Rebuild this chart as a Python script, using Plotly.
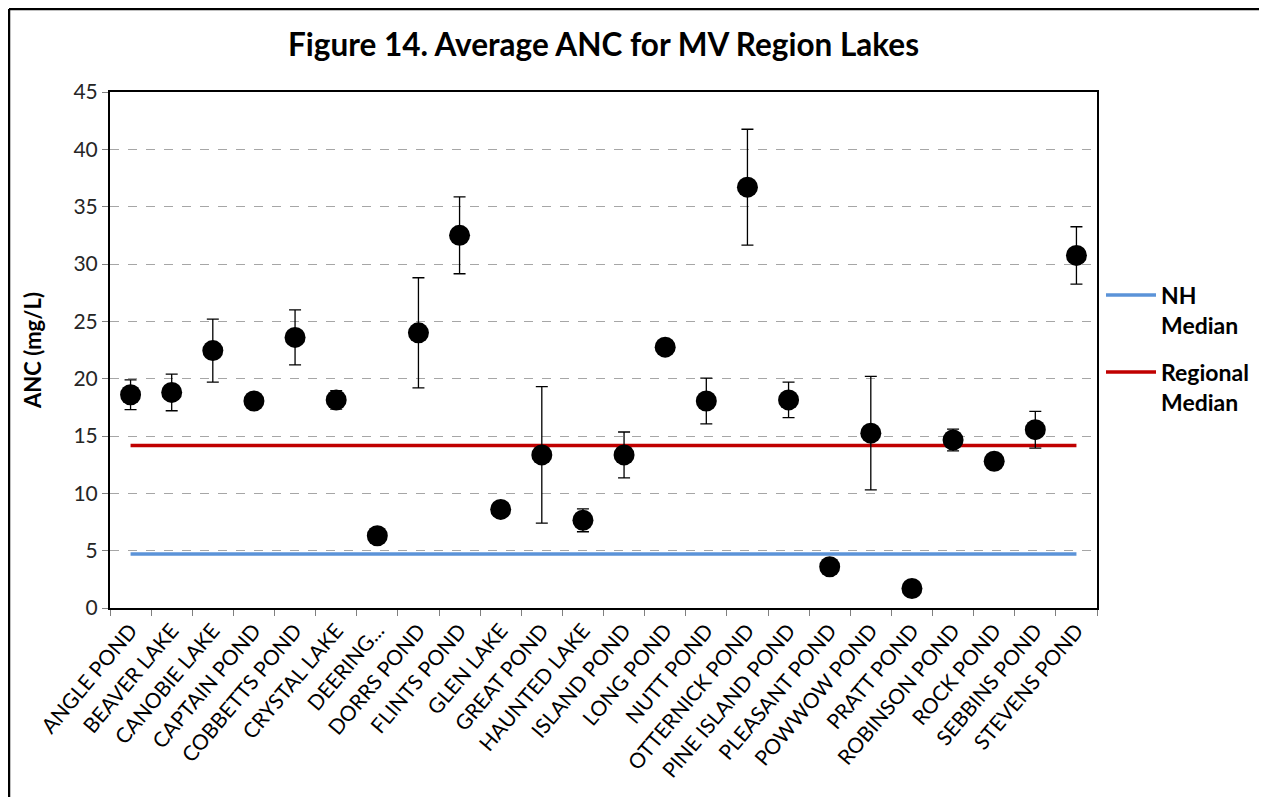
import plotly.graph_objects as go

lakes = ["ANGLE POND", "BEAVER LAKE", "CANOBIE LAKE", "CAPTAIN POND", "COBBETTS POND",
         "CRYSTAL LAKE", "DEERING...", "DORRS POND", "FLINTS POND", "GLEN LAKE",
         "GREAT POND", "HAUNTED LAKE", "ISLAND POND", "LONG POND", "NUTT POND",
         "OTTERNICK POND", "PINE ISLAND POND", "PLEASANT POND", "POWWOW POND",
         "PRATT POND", "ROBINSON POND", "ROCK POND", "SEBBINS POND", "STEVENS POND"]
anc_mean = [18.6, 18.8, 22.45, 18.05, 23.6, 18.15, 6.3, 24.0, 32.5, 8.6,
            13.35, 7.65, 13.35, 22.75, 18.05, 36.7, 18.15, 3.6, 15.25,
            1.7, 14.65, 12.8, 15.55, 30.75]
anc_err = [1.3, 1.6, 2.75, 0.0, 2.4, 0.8, 0.0, 4.8, 3.35, 0.0,
           5.95, 1.0, 2.0, 0.0, 2.0, 5.05, 1.55, 0.0, 4.95,
           0.0, 0.95, 0.0, 1.6, 2.5]
nh_median = 4.7
regional_median = 14.17

FONT = "Lato"
OFF = 8  # page body offset

fig = go.Figure()

fig.add_trace(go.Scatter(
    x=lakes, y=[nh_median] * len(lakes), mode="lines",
    line=dict(color="#5B93D8", width=3.5),
    name="<b>NH</b><br><b>Median</b>", legendgroup="nh"))
fig.add_trace(go.Scatter(
    x=lakes, y=[regional_median] * len(lakes), mode="lines",
    line=dict(color="#C00000", width=3.5),
    name="<b>Regional</b><br><b>Median</b>", legendgroup="reg"))
fig.add_trace(go.Scatter(
    x=lakes, y=anc_mean, mode="markers",
    marker=dict(color="black", size=21),
    error_y=dict(type="data", array=anc_err, visible=True,
                 color="black", thickness=1.3, width=6),
    showlegend=False))

# outer chart border (cropped frame), page px converted to plot-paper coords
x_l = (9 - 110) / 987
x_r = (1262 - 110) / 987
y_t = (608 - 9) / 516
y_b = (608 - 800) / 516
fig.add_shape(type="line", xref="paper", yref="paper", x0=x_l, x1=x_l, y0=y_b, y1=y_t,
              line=dict(color="black", width=2.5))
fig.add_shape(type="line", xref="paper", yref="paper", x0=x_l, x1=x_r, y0=y_t, y1=y_t,
              line=dict(color="black", width=2.5))
fig.add_shape(type="line", xref="paper", yref="paper", x0=x_r, x1=x_r, y0=y_b, y1=y_t,
              line=dict(color="#A0A0A0", width=1.5))

fig.update_layout(
    width=1267, height=797,
    margin=dict(l=110 - OFF, r=170 + OFF, t=92 - OFF, b=189 + OFF),
    paper_bgcolor="white", plot_bgcolor="white",
    font=dict(family=FONT, color="black"),
    title=dict(text="<b>Figure 14. Average ANC for MV Region Lakes</b>",
               x=0.5, xref="paper", xanchor="center",
               y=1 - (45 - OFF) / 797, yref="container", yanchor="middle",
               font=dict(size=31.5, family=FONT, color="black")),
    showlegend=True,
    legend=dict(x=(1101 - 110) / 987, xanchor="left", y=0.648, yanchor="top",
                font=dict(size=23, family=FONT, color="black"),
                valign="top", tracegroupgap=14, traceorder="grouped",
                itemwidth=50, bgcolor="rgba(0,0,0,0)"),
    xaxis=dict(
        type="category", tickangle=-50, tickson="boundaries",
        ticks="outside", ticklen=6, tickcolor="#808080",
        tickfont=dict(size=21, family=FONT, color="black"),
        showline=True, linecolor="black", linewidth=2, mirror=True,
        showgrid=False, range=[-0.5, len(lakes) - 0.5]),
    yaxis=dict(
        range=[0, 45], dtick=5, tick0=0,
        ticks="outside", ticklen=6, tickcolor="#808080",
        tickfont=dict(size=21, family=FONT, color="#262626"),
        showline=True, linecolor="black", linewidth=2, mirror=True,
        showgrid=True, gridcolor="#A6A6A6", griddash="dash", gridwidth=1,
        zeroline=False,
        title=dict(text="<b>ANC (mg/L)</b>", font=dict(size=22, family=FONT, color="black"),
                   standoff=26)),
)

fig.write_html("out.html")
